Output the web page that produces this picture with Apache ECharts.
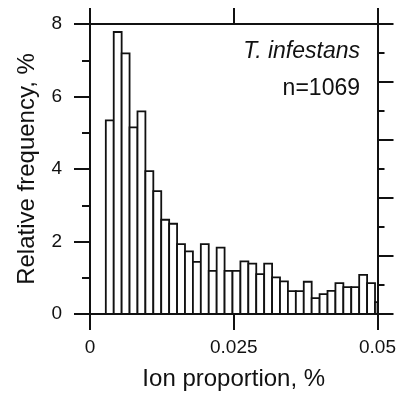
<!DOCTYPE html>
<html>
<head>
<meta charset="utf-8">
<script src="https://cdn.jsdelivr.net/npm/echarts@6/dist/echarts.min.js"></script>
<style>
  html, body { margin: 0; padding: 0; background: #fff; }
  #chart { width: 399px; height: 396px; }
</style>
</head>
<body>
<div id="chart"></div>
<script>
// histogram bins: left edge of first drawn bin and bin width (Ion proportion, %)
var binStart = 0.00275
var binWidth = 0.001377
// relative frequency, % for each bin
var freq = [
  5.34, 7.78, 7.19, 5.15, 5.59, 3.94, 3.39, 2.60, 2.49, 1.93,
  1.73, 1.44, 1.93, 1.19, 1.83, 1.19, 1.19, 1.45, 1.39, 1.10,
  1.39, 1.01, 0.90, 0.63, 0.63, 0.89, 0.44, 0.55, 0.64, 0.85,
  0.74, 0.74, 1.08, 0.85, 0.33
]
var xTicks = [0, 0.025, 0.05]
var yTicks = [0, 2, 4, 6, 8]
var speciesLabel = 'T. infestans'
var sampleLabel = 'n=1069'

var FONT = "'Liberation Sans', Arial, sans-serif"
var INK = '#111'

// [left edge, right edge, value]
var bars = freq.map(function (v, i) {
  return [binStart + i * binWidth, binStart + (i + 1) * binWidth, v]
})

var chart = echarts.init(document.getElementById('chart'), null, { renderer: 'canvas' })

var lineStyle = { color: INK, width: 2 }

var option = {
  backgroundColor: '#fff',
  animation: false,
  grid: { left: 90, right: 20, top: 24, bottom: 81 },
  xAxis: [{
    type: 'value',
    position: 'bottom',
    min: xTicks[0],
    max: xTicks[xTicks.length - 1],
    interval: xTicks[1] - xTicks[0],
    name: 'Ion proportion, %',
    nameLocation: 'middle',
    nameGap: 53,
    nameTextStyle: { fontFamily: FONT, fontSize: 24, color: INK },
    axisLine: { show: true, onZero: false, lineStyle: lineStyle },
    axisTick: { show: true, inside: false, length: 16, lineStyle: lineStyle },
    axisLabel: { show: true, margin: 24, fontFamily: FONT, fontSize: 19, color: INK },
    splitLine: { show: false }
  }, {
    type: 'value',
    position: 'top',
    min: xTicks[0],
    max: xTicks[xTicks.length - 1],
    interval: xTicks[1] - xTicks[0],
    axisLine: { show: true, onZero: false, lineStyle: lineStyle },
    axisTick: { show: true, inside: false, length: 16, lineStyle: lineStyle },
    axisLabel: { show: false },
    splitLine: { show: false }
  }],
  yAxis: [{
    type: 'value',
    position: 'left',
    min: yTicks[0],
    max: yTicks[yTicks.length - 1],
    interval: yTicks[1] - yTicks[0],
    name: 'Relative frequency, %',
    nameLocation: 'middle',
    nameRotate: 90,
    nameGap: 51,
    nameTextStyle: { fontFamily: FONT, fontSize: 24, color: INK },
    axisLine: { show: true, onZero: false, lineStyle: lineStyle },
    axisTick: { show: true, inside: false, length: 16, lineStyle: lineStyle },
    minorTick: { show: true, splitNumber: 2, length: 8, lineStyle: lineStyle },
    axisLabel: { show: true, margin: 28, fontFamily: FONT, fontSize: 19, color: INK },
    splitLine: { show: false },
    minorSplitLine: { show: false }
  }, {
    // unlabelled right-hand scale of the panel
    type: 'value',
    position: 'right',
    min: 0,
    max: 10,
    interval: 2,
    axisLine: { show: true, onZero: false, lineStyle: lineStyle },
    axisTick: { show: true, inside: false, length: 16, lineStyle: lineStyle },
    minorTick: { show: true, splitNumber: 2, length: 7, lineStyle: lineStyle },
    axisLabel: { show: false },
    splitLine: { show: false },
    minorSplitLine: { show: false }
  }],
  graphic: [{
    type: 'text',
    right: 39,
    top: 40,
    style: {
      text: speciesLabel,
      font: 'italic 23px ' + FONT,
      fill: INK
    }
  }, {
    type: 'text',
    right: 39,
    top: 77,
    style: {
      text: sampleLabel,
      font: '23px ' + FONT,
      fill: INK
    }
  }],
  series: [{
    type: 'custom',
    xAxisIndex: 0,
    yAxisIndex: 0,
    data: bars,
    encode: { x: [0, 1], y: 2 },
    renderItem: function (params, api) {
      var p0 = api.coord([api.value(0), api.value(2)])
      var p1 = api.coord([api.value(1), 0])
      var shape = echarts.graphic.clipRectByRect({
        x: p0[0],
        y: p0[1],
        width: p1[0] - p0[0],
        height: p1[1] - p0[1]
      }, {
        x: params.coordSys.x,
        y: params.coordSys.y,
        width: params.coordSys.width,
        height: params.coordSys.height
      })
      if (!shape) return
      return {
        type: 'rect',
        shape: shape,
        style: { fill: '#fff', stroke: INK, lineWidth: 1.8 }
      }
    }
  }]
}

chart.setOption(option)
</script>
</body>
</html>
